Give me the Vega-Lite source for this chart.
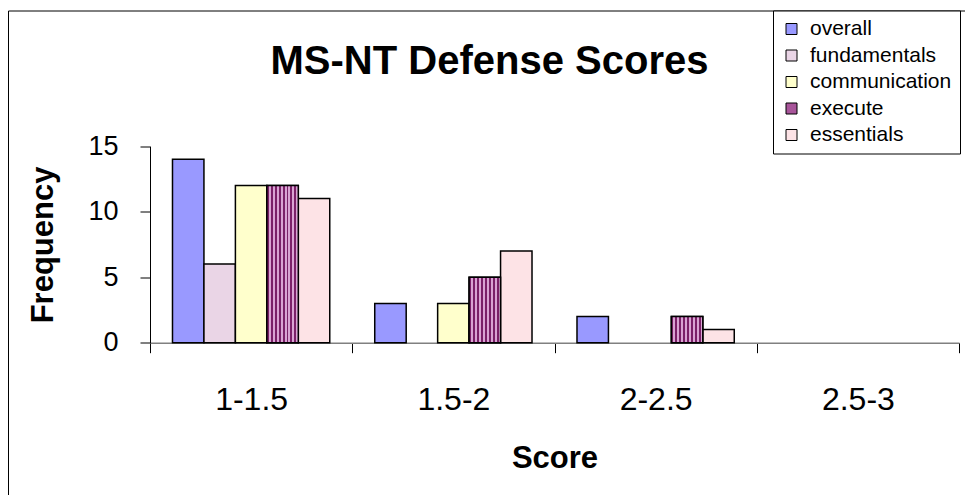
{
  "$schema": "https://vega.github.io/schema/vega-lite/v6.json",
  "width": 959,
  "height": 486,
  "autosize": {"type": "none"},
  "padding": {"left": 8, "top": 10.5, "right": 0, "bottom": 0},
  "background": "white",
  "view": {"stroke": "black", "strokeWidth": 1, "fill": "white"},
  "title": {
    "text": "MS-NT Defense Scores",
    "font": "Liberation Sans",
    "fontSize": 40,
    "fontWeight": "bold",
    "color": "black",
    "anchor": "middle",
    "baseline": "alphabetic",
    "offset": -103.5,
    "dx": 2
  },
  "data": {
    "values": [
      {"score": "1-1.5", "series": "overall", "frequency": 14},
      {"score": "1-1.5", "series": "fundamentals", "frequency": 6},
      {"score": "1-1.5", "series": "communication", "frequency": 12},
      {"score": "1-1.5", "series": "execute", "frequency": 12},
      {"score": "1-1.5", "series": "essentials", "frequency": 11},
      {"score": "1.5-2", "series": "overall", "frequency": 3},
      {"score": "1.5-2", "series": "communication", "frequency": 3},
      {"score": "1.5-2", "series": "execute", "frequency": 5},
      {"score": "1.5-2", "series": "essentials", "frequency": 7},
      {"score": "2-2.5", "series": "overall", "frequency": 2},
      {"score": "2-2.5", "series": "execute", "frequency": 2},
      {"score": "2-2.5", "series": "essentials", "frequency": 1}
    ]
  },
  "encoding": {
    "x": {
      "field": "score",
      "type": "nominal",
      "sort": null,
      "scale": {
        "domain": ["1-1.5", "1.5-2", "2-2.5", "2.5-3"],
        "range": [142, 951],
        "paddingInner": 0,
        "paddingOuter": 0
      },
      "axis": {
        "offset": -153.8,
        "tickBand": "extent",
        "tickSize": 10,
        "tickColor": "black",
        "tickWidth": 1,
        "domainColor": "#808080",
        "domainWidth": 1.5,
        "grid": false,
        "labelAngle": 0,
        "labelFont": "Liberation Sans",
        "labelFontSize": 32,
        "labelColor": "black",
        "labelBaseline": "alphabetic",
        "labelPadding": 57,
        "title": "Score",
        "titleFont": "Liberation Sans",
        "titleFontSize": 31,
        "titleFontWeight": "bold",
        "titleColor": "black",
        "titleBaseline": "alphabetic",
        "titleY": 124.3
      }
    },
    "xOffset": {
      "field": "series",
      "type": "nominal",
      "sort": null,
      "scale": {
        "domain": ["overall", "fundamentals", "communication", "execute", "essentials"],
        "paddingInner": 0,
        "paddingOuter": 0.715
      }
    },
    "y": {
      "field": "frequency",
      "type": "quantitative",
      "scale": {"domain": [0, 15], "range": [332.2, 135.7], "nice": false, "zero": true},
      "axis": {
        "offset": -142,
        "values": [0, 5, 10, 15],
        "grid": false,
        "domainColor": "black",
        "domainWidth": 1,
        "tickColor": "black",
        "tickSize": 10,
        "tickWidth": 1,
        "labelFont": "Liberation Sans",
        "labelFontSize": 27,
        "labelColor": "black",
        "labelPadding": 22,
        "title": "Frequency",
        "titleFont": "Liberation Sans",
        "titleFontSize": 31,
        "titleFontWeight": "bold",
        "titleColor": "black",
        "titleBaseline": "alphabetic",
        "titleX": -98
      }
    }
  },
  "layer": [
    {
      "mark": {"type": "bar", "stroke": "black", "strokeWidth": 1.5},
      "encoding": {
        "color": {
          "field": "series",
          "type": "nominal",
          "sort": null,
          "scale": {
            "domain": ["overall", "fundamentals", "communication", "execute", "essentials"],
            "range": ["#9999FF", "#EAD5E6", "#FFFFCC", "#A8559A", "#FDE3E6"]
          },
          "legend": {
            "orient": "none",
            "legendX": 765,
            "legendY": 0,
            "title": null,
            "direction": "vertical",
            "fillColor": "white",
            "strokeColor": "black",
            "padding": 8,
            "symbolType": "square",
            "symbolSize": 121,
            "symbolOffset": 0,
            "symbolStrokeColor": "black",
            "symbolStrokeWidth": 1,
            "symbolOpacity": 1,
            "labelFont": "Liberation Sans",
            "labelFontSize": 21,
            "labelColor": "black",
            "labelOffset": 8,
            "rowPadding": 4.5
          }
        }
      }
    },
    {
      "transform": [{"filter": "datum.series === 'execute'"}],
      "mark": {
        "type": "bar",
        "stroke": "black",
        "strokeWidth": 1.5,
        "fill": {
          "gradient": "linear",
          "x1": 0, "x2": 1, "y1": 0, "y2": 0,
          "stops": [
            {"offset": 0, "color": "#7A2068"}, {"offset": 0.0625, "color": "#7A2068"},
            {"offset": 0.0625, "color": "#D9A3D3"}, {"offset": 0.125, "color": "#D9A3D3"},
            {"offset": 0.125, "color": "#7A2068"}, {"offset": 0.1875, "color": "#7A2068"},
            {"offset": 0.1875, "color": "#D9A3D3"}, {"offset": 0.25, "color": "#D9A3D3"},
            {"offset": 0.25, "color": "#7A2068"}, {"offset": 0.3125, "color": "#7A2068"},
            {"offset": 0.3125, "color": "#D9A3D3"}, {"offset": 0.375, "color": "#D9A3D3"},
            {"offset": 0.375, "color": "#7A2068"}, {"offset": 0.4375, "color": "#7A2068"},
            {"offset": 0.4375, "color": "#D9A3D3"}, {"offset": 0.5, "color": "#D9A3D3"},
            {"offset": 0.5, "color": "#7A2068"}, {"offset": 0.5625, "color": "#7A2068"},
            {"offset": 0.5625, "color": "#D9A3D3"}, {"offset": 0.625, "color": "#D9A3D3"},
            {"offset": 0.625, "color": "#7A2068"}, {"offset": 0.6875, "color": "#7A2068"},
            {"offset": 0.6875, "color": "#D9A3D3"}, {"offset": 0.75, "color": "#D9A3D3"},
            {"offset": 0.75, "color": "#7A2068"}, {"offset": 0.8125, "color": "#7A2068"},
            {"offset": 0.8125, "color": "#D9A3D3"}, {"offset": 0.875, "color": "#D9A3D3"},
            {"offset": 0.875, "color": "#7A2068"}, {"offset": 0.9375, "color": "#7A2068"},
            {"offset": 0.9375, "color": "#D9A3D3"}, {"offset": 1, "color": "#D9A3D3"}
          ]
        }
      }
    }
  ]
}
